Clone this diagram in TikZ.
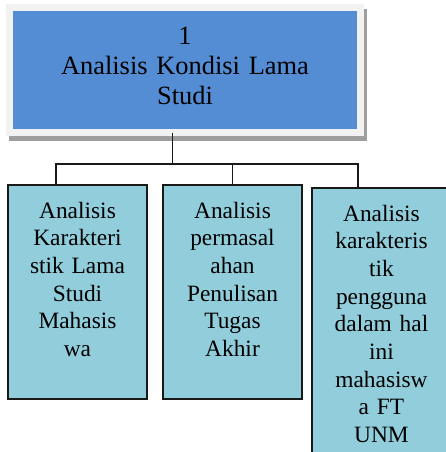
\documentclass[tikz,border=0pt]{standalone}
\usepackage{fontspec}
\setmainfont{Liberation Serif}
\usepackage{xcolor}
\usepackage{tikz}
\usetikzlibrary{positioning}

\definecolor{rootblue}{RGB}{84,141,212}
\definecolor{itemblue}{RGB}{146,205,220}
\definecolor{framegray}{RGB}{242,242,242}

\begin{document}
\begin{tikzpicture}[
    x=0.5pt, y=-0.5pt,
    root/.style={rectangle, draw=framegray, line width=3.5pt, fill=rootblue, outer sep=0pt,
        preaction={draw=black!38, line width=3.5pt, transform canvas={xshift=1.5pt, yshift=-2.5pt}},
        minimum width=175.5pt, text width=175.5pt, inner sep=0pt, align=center,
        text height=18.4pt, text depth=44.1pt, font=\fontsize{13.2}{15}\selectfont},
    item/.style={rectangle, draw=black!90, line width=0.8pt, fill=itemblue, outer sep=0pt,
        minimum width=69.5pt, text width=69.5pt, inner sep=0pt, align=center,
        text height=16.5pt, text depth=90.5pt, font=\fontsize{11.7}{13.85}\selectfont},
    conn/.style={draw=black!90, line width=0.75pt}
]
    \useasboundingbox (0,0) rectangle (446,452);
    \clip (0,0) rectangle (446,452);

    % Boxes
    \node[root] (root) at (185,70) {1\\Analisis Kondisi Lama\\Studi};
    \node[item] (a1) at (77.5,292) {Analisis\\Karakteri\\stik Lama\\Studi\\Mahasis\\wa};
    \node[item, right=8pt of a1] (a2) {Analisis\\permasal\\ahan\\Penulisan\\Tugas\\Akhir};
    \node[item, right=5pt of a2.north east, anchor=north west, yshift=-1.5pt, text depth=130pt] (a3)
        {Analisis\\karakteris\\tik\\pengguna\\dalam hal\\ini\\mahasisw\\a FT\\UNM};

    % Lines
    \draw[conn] ([xshift=-6.25pt]root.south) -- ++(0,-15.75pt) coordinate (bus);
    \draw[conn] ([xshift=-10.75pt]a1.north) |- (bus) -| ([xshift=-11.75pt]a3.north);
    \draw[conn] (a2.north) -- (a2.north |- bus);

\end{tikzpicture}
\end{document}
